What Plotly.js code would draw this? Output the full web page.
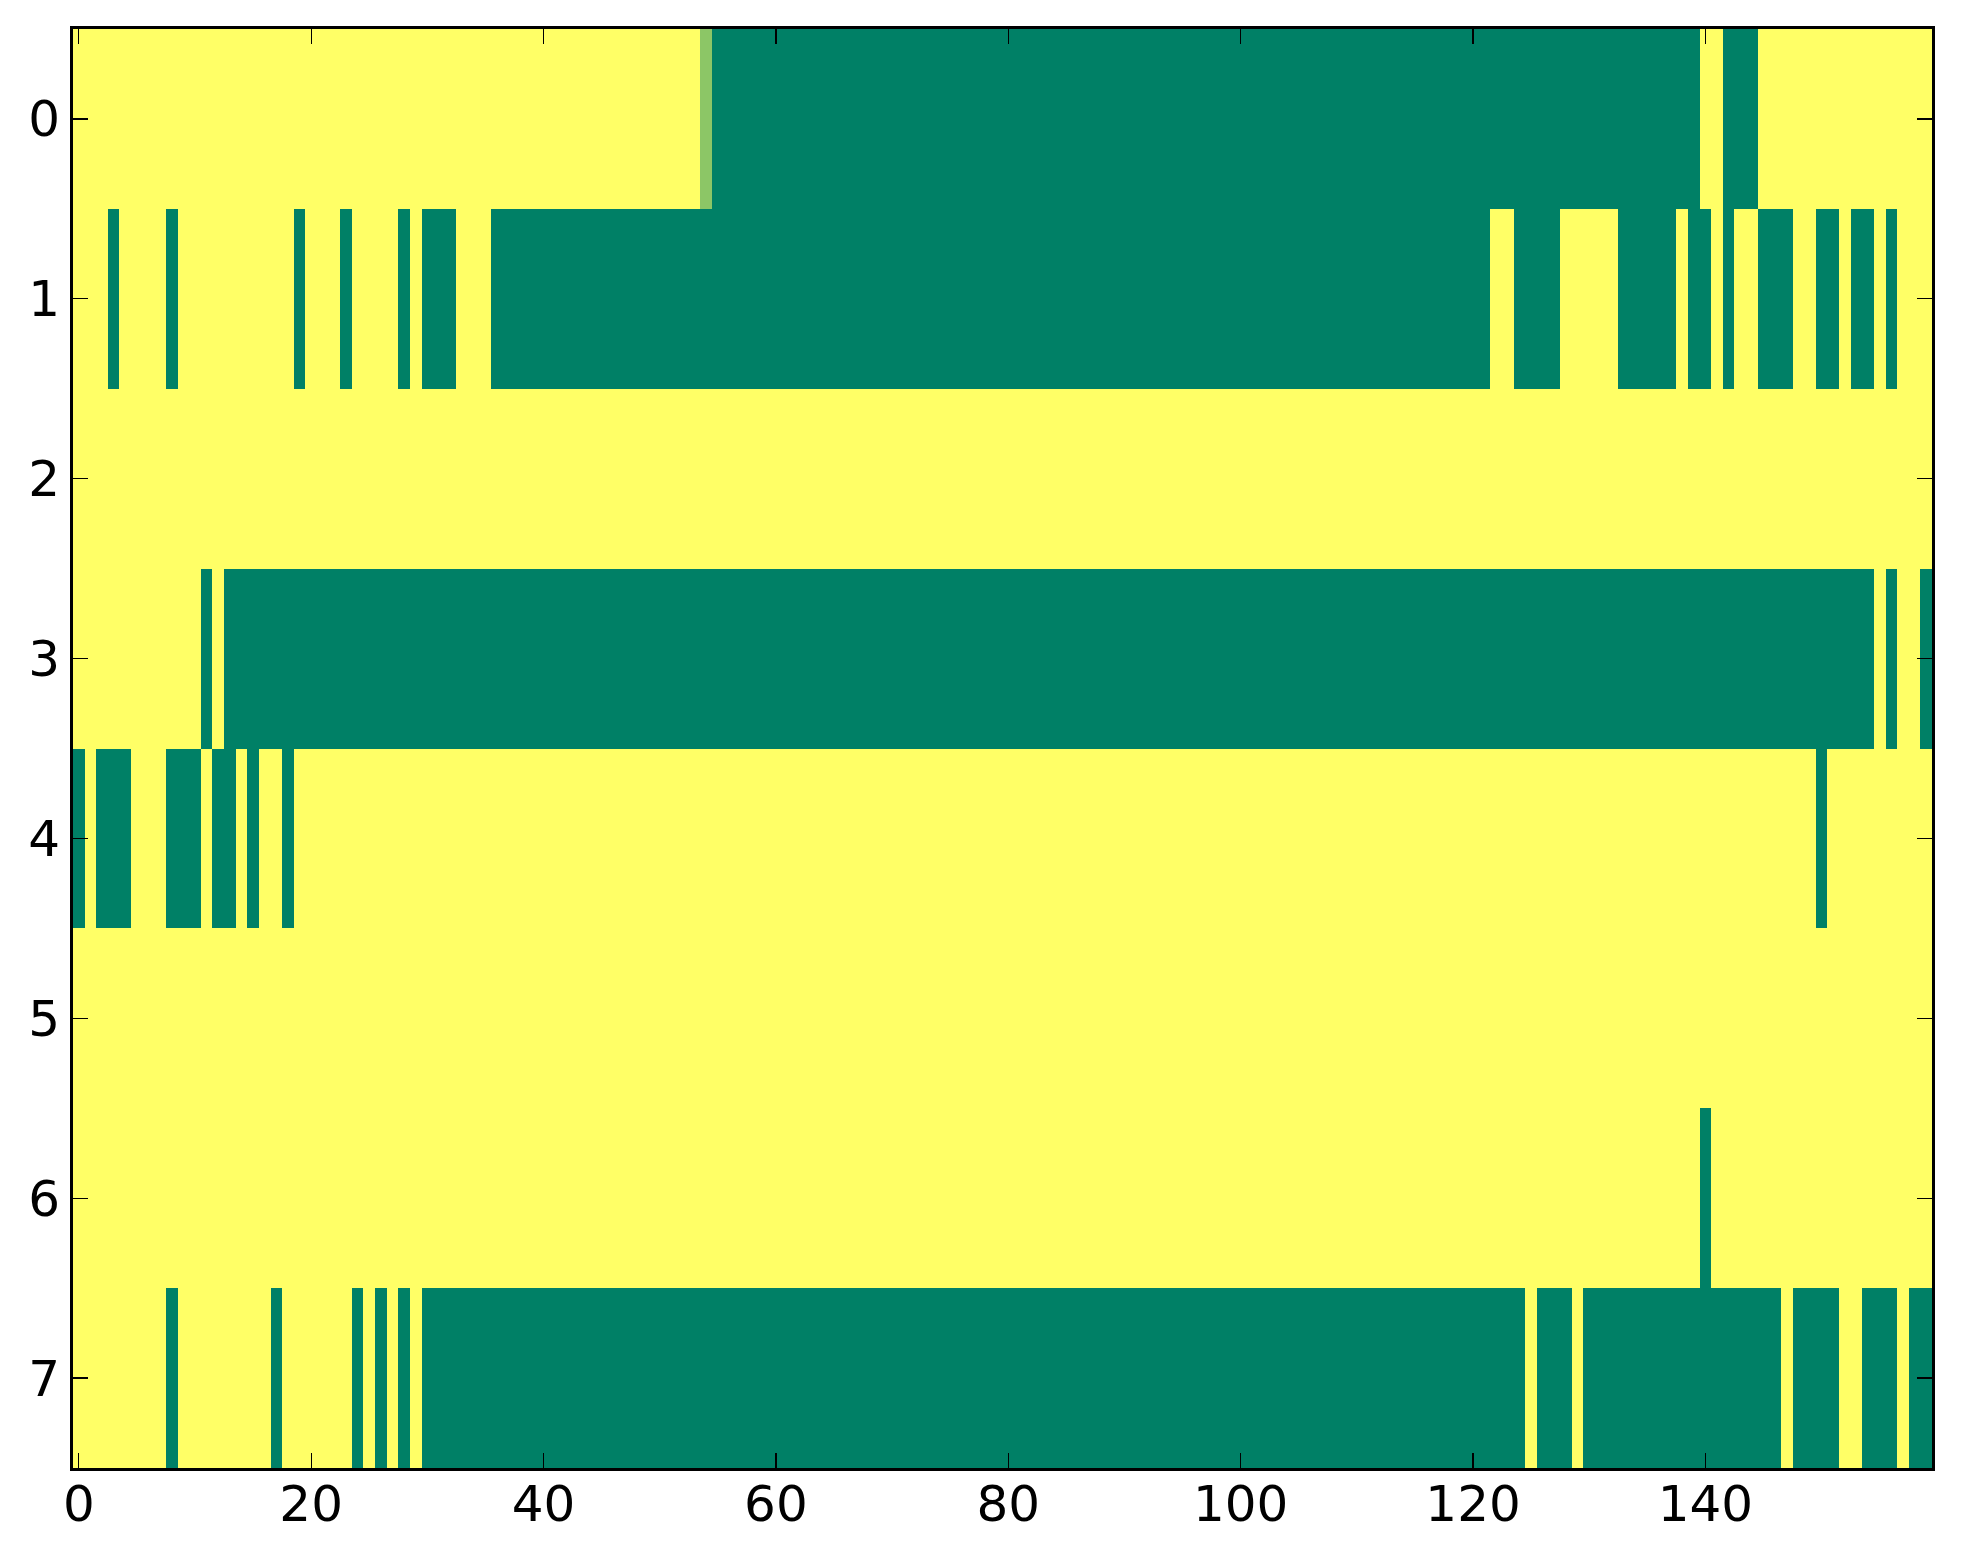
<!DOCTYPE html>
<html>
<head>
<meta charset="utf-8">
<script src="https://cdn.plot.ly/plotly-3.0.1.min.js"></script>
<style>html,body{margin:0;padding:0;background:#fff;}#chart{width:1963px;height:1564px;}</style>
</head>
<body>
<div id="chart"></div>
<script>
// values per row (1 = yellow, 0 = green), columns 0..159, ten per line
const row0 = [
1,1,1,1,1,1,1,1,1,1, 1,1,1,1,1,1,1,1,1,1, 1,1,1,1,1,1,1,1,1,1, 1,1,1,1,1,1,1,1,1,1,
1,1,1,1,1,1,1,1,1,1, 1,1,1,1,0.55,0,0,0,0,0, 0,0,0,0,0,0,0,0,0,0, 0,0,0,0,0,0,0,0,0,0,
0,0,0,0,0,0,0,0,0,0, 0,0,0,0,0,0,0,0,0,0, 0,0,0,0,0,0,0,0,0,0, 0,0,0,0,0,0,0,0,0,0,
0,0,0,0,0,0,0,0,0,0, 0,0,0,0,0,0,0,0,0,0, 1,1,0,0,0,1,1,1,1,1, 1,1,1,1,1,1,1,1,1,1];
const row1 = [
1,1,1,0,1,1,1,1,0,1, 1,1,1,1,1,1,1,1,1,0, 1,1,1,0,1,1,1,1,0,1, 0,0,0,1,1,1,0,0,0,0,
0,0,0,0,0,0,0,0,0,0, 0,0,0,0,0,0,0,0,0,0, 0,0,0,0,0,0,0,0,0,0, 0,0,0,0,0,0,0,0,0,0,
0,0,0,0,0,0,0,0,0,0, 0,0,0,0,0,0,0,0,0,0, 0,0,0,0,0,0,0,0,0,0, 0,0,0,0,0,0,0,0,0,0,
0,0,1,1,0,0,0,0,1,1, 1,1,1,0,0,0,0,0,1,0, 0,1,0,1,1,0,0,0,1,1, 0,0,1,0,0,1,0,1,1,1];
const row2 = [
1,1,1,1,1,1,1,1,1,1, 1,1,1,1,1,1,1,1,1,1, 1,1,1,1,1,1,1,1,1,1, 1,1,1,1,1,1,1,1,1,1,
1,1,1,1,1,1,1,1,1,1, 1,1,1,1,1,1,1,1,1,1, 1,1,1,1,1,1,1,1,1,1, 1,1,1,1,1,1,1,1,1,1,
1,1,1,1,1,1,1,1,1,1, 1,1,1,1,1,1,1,1,1,1, 1,1,1,1,1,1,1,1,1,1, 1,1,1,1,1,1,1,1,1,1,
1,1,1,1,1,1,1,1,1,1, 1,1,1,1,1,1,1,1,1,1, 1,1,1,1,1,1,1,1,1,1, 1,1,1,1,1,1,1,1,1,1];
const row3 = [
1,1,1,1,1,1,1,1,1,1, 1,0,1,0,0,0,0,0,0,0, 0,0,0,0,0,0,0,0,0,0, 0,0,0,0,0,0,0,0,0,0,
0,0,0,0,0,0,0,0,0,0, 0,0,0,0,0,0,0,0,0,0, 0,0,0,0,0,0,0,0,0,0, 0,0,0,0,0,0,0,0,0,0,
0,0,0,0,0,0,0,0,0,0, 0,0,0,0,0,0,0,0,0,0, 0,0,0,0,0,0,0,0,0,0, 0,0,0,0,0,0,0,0,0,0,
0,0,0,0,0,0,0,0,0,0, 0,0,0,0,0,0,0,0,0,0, 0,0,0,0,0,0,0,0,0,0, 0,0,0,0,0,1,0,1,1,0];
const row4 = [
0,1,0,0,0,1,1,1,0,0, 0,1,0,0,1,0,1,1,0,1, 1,1,1,1,1,1,1,1,1,1, 1,1,1,1,1,1,1,1,1,1,
1,1,1,1,1,1,1,1,1,1, 1,1,1,1,1,1,1,1,1,1, 1,1,1,1,1,1,1,1,1,1, 1,1,1,1,1,1,1,1,1,1,
1,1,1,1,1,1,1,1,1,1, 1,1,1,1,1,1,1,1,1,1, 1,1,1,1,1,1,1,1,1,1, 1,1,1,1,1,1,1,1,1,1,
1,1,1,1,1,1,1,1,1,1, 1,1,1,1,1,1,1,1,1,1, 1,1,1,1,1,1,1,1,1,1, 0,1,1,1,1,1,1,1,1,1];
const row5 = [
1,1,1,1,1,1,1,1,1,1, 1,1,1,1,1,1,1,1,1,1, 1,1,1,1,1,1,1,1,1,1, 1,1,1,1,1,1,1,1,1,1,
1,1,1,1,1,1,1,1,1,1, 1,1,1,1,1,1,1,1,1,1, 1,1,1,1,1,1,1,1,1,1, 1,1,1,1,1,1,1,1,1,1,
1,1,1,1,1,1,1,1,1,1, 1,1,1,1,1,1,1,1,1,1, 1,1,1,1,1,1,1,1,1,1, 1,1,1,1,1,1,1,1,1,1,
1,1,1,1,1,1,1,1,1,1, 1,1,1,1,1,1,1,1,1,1, 1,1,1,1,1,1,1,1,1,1, 1,1,1,1,1,1,1,1,1,1];
const row6 = [
1,1,1,1,1,1,1,1,1,1, 1,1,1,1,1,1,1,1,1,1, 1,1,1,1,1,1,1,1,1,1, 1,1,1,1,1,1,1,1,1,1,
1,1,1,1,1,1,1,1,1,1, 1,1,1,1,1,1,1,1,1,1, 1,1,1,1,1,1,1,1,1,1, 1,1,1,1,1,1,1,1,1,1,
1,1,1,1,1,1,1,1,1,1, 1,1,1,1,1,1,1,1,1,1, 1,1,1,1,1,1,1,1,1,1, 1,1,1,1,1,1,1,1,1,1,
1,1,1,1,1,1,1,1,1,1, 1,1,1,1,1,1,1,1,1,1, 0,1,1,1,1,1,1,1,1,1, 1,1,1,1,1,1,1,1,1,1];
const row7 = [
1,1,1,1,1,1,1,1,0,1, 1,1,1,1,1,1,1,0,1,1, 1,1,1,1,0,1,0,1,0,1, 0,0,0,0,0,0,0,0,0,0,
0,0,0,0,0,0,0,0,0,0, 0,0,0,0,0,0,0,0,0,0, 0,0,0,0,0,0,0,0,0,0, 0,0,0,0,0,0,0,0,0,0,
0,0,0,0,0,0,0,0,0,0, 0,0,0,0,0,0,0,0,0,0, 0,0,0,0,0,0,0,0,0,0, 0,0,0,0,0,0,0,0,0,0,
0,0,0,0,0,1,0,0,0,1, 0,0,0,0,0,0,0,0,0,0, 0,0,0,0,0,0,0,1,0,0, 0,0,1,1,0,0,0,1,0,0];

const xTicks = [0, 20, 40, 60, 80, 100, 120, 140];
const yTicks = [0, 1, 2, 3, 4, 5, 6, 7];

const z = [row0, row1, row2, row3, row4, row5, row6, row7];

const trace = {
  type: 'heatmap',
  z: z,
  colorscale: [[0, '#008066'], [1, '#ffff66']],
  zmin: 0, zmax: 1,
  showscale: false,
  hoverinfo: 'skip'
};

const fontFam = 'DejaVu Sans, sans-serif';
const layout = {
  width: 1963, height: 1564,
  margin: {l: 73, r: 31, t: 29, b: 96, pad: 0},
  paper_bgcolor: '#ffffff',
  plot_bgcolor: '#ffffff',
  showlegend: false,
  font: {family: fontFam, size: 50, color: '#000'},
  xaxis: {
    range: [-0.5, 159.5],
    tickvals: xTicks,
    ticktext: xTicks.map(String),
    ticks: 'inside', ticklen: 15, tickwidth: 1.3, tickcolor: '#000',
    showline: true, linewidth: 3, linecolor: '#000', mirror: 'allticks',
    showgrid: false, zeroline: false,
    tickfont: {family: fontFam, size: 50, color: '#000'},
    ticklabelstandoff: -10
  },
  yaxis: {
    range: [7.5, -0.5],
    tickvals: yTicks,
    ticktext: yTicks.map(String),
    ticks: 'inside', ticklen: 15, tickwidth: 1.3, tickcolor: '#000',
    showline: true, linewidth: 3, linecolor: '#000', mirror: 'allticks',
    showgrid: false, zeroline: false,
    tickfont: {family: fontFam, size: 50, color: '#000'},
    ticklabelstandoff: 0
  }
};

Plotly.newPlot('chart', [trace], layout, {displayModeBar: false, staticPlot: true});
</script>
</body>
</html>
